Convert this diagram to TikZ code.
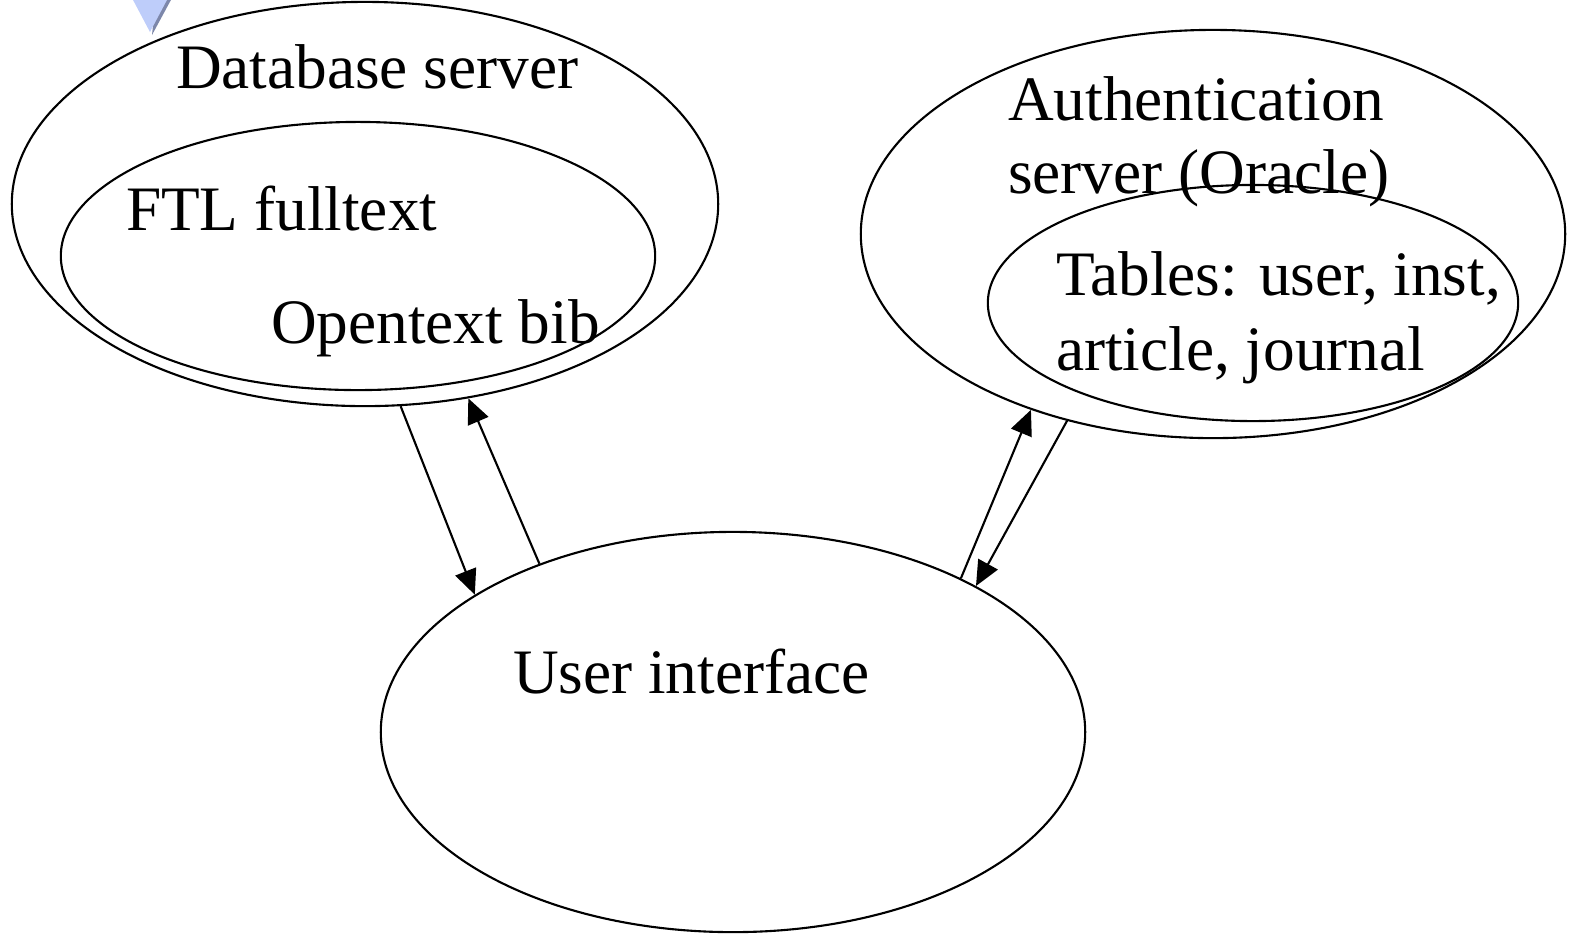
\documentclass[tikz,border=0pt]{standalone}
\usepackage{fontspec}
\setmainfont{Liberation Serif}
\usetikzlibrary{arrows.meta}
\usetikzlibrary{shapes.geometric}

\definecolor{pointerblue}{RGB}{190,205,250}
\definecolor{pointershade}{RGB}{125,135,170}

\begin{document}
\begin{tikzpicture}[x=0.01cm, y=-0.01cm, line width=0.6pt,
    blob/.style={ellipse, draw, inner sep=0pt},
    lbl/.style={anchor=base west, inner sep=0pt, font=\fontsize{18}{21.6}\selectfont},
    flow/.style={-{Triangle[length=0.25cm, width=0.22cm]}}]

    \useasboundingbox (0,0) rectangle (1569,935);

    % Pointer in the corner
    \fill[pointershade] (156,-2) -- (172,-2) -- (152,35) -- cycle;
    \fill[pointerblue] (132,-2) -- (168,-2) -- (150,32) -- cycle;

    % Ellipses
    \node[blob, minimum width=7.06cm, minimum height=4.04cm] (db) at (365,204) {};
    \node[blob, minimum width=5.94cm, minimum height=2.68cm] (ftl) at (358,256) {};
    \node[blob, minimum width=7.04cm, minimum height=4.08cm] (auth) at (1213,234) {};
    \node[blob, minimum width=5.30cm, minimum height=2.36cm] (tables) at (1253,303) {};
    \node[blob, minimum width=7.04cm, minimum height=4.00cm] (ui) at (733,732) {};

    % Labels
    \node[lbl] (dblbl) at (175,88) {Database server};
    \node[lbl] (ftllbl) at (125,230) {FTL fulltext};
    \node[lbl] (biblbl) at (270,343) {Opentext bib};
    \node[lbl] (authlbl) at (1007,120) {Authentication};
    \node[lbl] (authlbl2) at (1007,193) {server (Oracle)};
    \node[lbl] (tbllbl) at (1055,295) {Tables: user, inst,};
    \node[lbl] (tbllbl2) at (1055,370) {article, journal};
    \node[lbl] (uilbl) at (512,693) {User interface};

    % Connections
    \draw[flow] (db.-80.4) -- (ui.152);
    \draw[flow] (ui.139) -- (db.-62.5);
    \draw[flow] (ui.34) -- (auth.224.5);
    \draw[flow] (auth.232.4) -- (ui.31);

\end{tikzpicture}
\end{document}
